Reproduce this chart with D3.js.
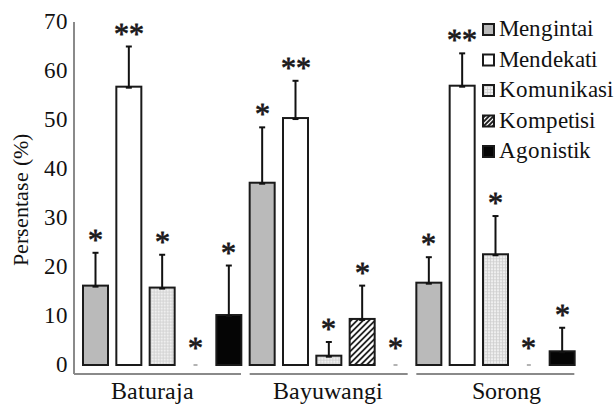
<!DOCTYPE html>
<html>
<head>
<meta charset="utf-8">
<script src="https://cdn.jsdelivr.net/npm/d3@7"></script>
<style>
  @font-face { font-family: "ChartSerif"; src: local("Liberation Serif"), local("LiberationSerif"), local("Tinos"); }
  body { margin: 0; background: #fff; }
</style>
</head>
<body>
<svg id="chart" width="614" height="406"></svg>
<script>
// data
var groups = ["Baturaja", "Bayuwangi", "Sorong"];
var series = ["Mengintai", "Mendekati", "Komunikasi", "Kompetisi", "Agonistik"];
var baturaja = [16.2, 56.8, 15.8, 0, 10.2];
var bayuwangi = [37.2, 50.4, 1.9, 9.4, 0];
var sorong = [16.8, 57.0, 22.6, 0, 2.8];
var errBaturaja = [6.7, 8.2, 6.7, 0, 10.1];
var errBayuwangi = [11.3, 7.6, 2.8, 6.8, 0];
var errSorong = [5.2, 6.6, 7.8, 0, 4.8];
var sigBaturaja = ["*", "**", "*", "*", "*"];
var sigBayuwangi = ["*", "**", "*", "*", "*"];
var sigSorong = ["*", "**", "*", "*", "*"];
var yTicks = [0, 10, 20, 30, 40, 50, 60, 70];

var values = [baturaja, bayuwangi, sorong];
var errors = [errBaturaja, errBayuwangi, errSorong];
var sigs = [sigBaturaja, sigBayuwangi, sigSorong];

var rows = [];
groups.forEach(function(g, gi) {
  series.forEach(function(s, si) {
    rows.push({ group: g, key: s, value: values[gi][si], err: errors[gi][si], sig: sigs[gi][si] });
  });
});

var fills = {
  Mengintai: "#bababa",
  Mendekati: "#ffffff",
  Komunikasi: "#efefef",
  Kompetisi: "#ffffff",
  Agonistik: "#050505"
};

var serif = "ChartSerif, 'Liberation Serif', Tinos, 'Times New Roman', serif";

var svg = d3.select("#chart");

var x0 = d3.scaleBand().domain(groups).range([83, 583]);
var x1 = d3.scaleBand().domain(series).range([0, x0.bandwidth()])
  .paddingInner(0.25).paddingOuter(0.125).align(0);
var y = d3.scaleLinear().domain([0, 70]).range([365, 22]);

// texture lines inside a box: grid or "/" hatch
function texture(g, key, bx, by, bw, bh) {
  if (key == "Komunikasi") {
    for (var gx = bx + 1.5; gx < bx + bw; gx += 3) {
      g.append("line").attr("x1", gx).attr("x2", gx).attr("y1", by).attr("y2", by + bh)
        .attr("stroke", "#cfcfcf").attr("stroke-width", 0.8);
    }
    for (var gy = by + 1.5; gy < by + bh; gy += 3) {
      g.append("line").attr("x1", bx).attr("x2", bx + bw).attr("y1", gy).attr("y2", gy)
        .attr("stroke", "#cfcfcf").attr("stroke-width", 0.8);
    }
  }
  if (key == "Kompetisi") {
    var top = by, bot = by + bh, step = bh < 20 ? 4.5 : 6;
    for (var c = bx + top + step / 2; c < bx + bw + bot; c += step) {
      var xa = Math.max(bx, c - bot), xb = Math.min(bx + bw, c - top);
      if (xb <= xa) continue;
      g.append("line").attr("x1", xa).attr("y1", c - xa).attr("x2", xb).attr("y2", c - xb)
        .attr("stroke", "#222").attr("stroke-width", 1.8);
    }
  }
}

// y axis
svg.append("line")
  .attr("x1", 74).attr("x2", 74).attr("y1", y(70)).attr("y2", 374)
  .attr("stroke", "#8a8a8a").attr("stroke-width", 2);

svg.append("g").selectAll("text")
  .data(yTicks)
  .enter()
  .append("text")
  .attr("x", 68)
  .attr("y", function(d) { return y(d) + 7; })
  .attr("text-anchor", "end")
  .attr("font-size", 23)
  .text(function(d) { return d; });

svg.append("text")
  .attr("transform", "translate(28,200) rotate(-90)")
  .attr("text-anchor", "middle")
  .attr("font-size", 22)
  .text("Persentase (%)");

// group baselines and labels
var labelDx = [-9, 0, 12];
svg.append("g").selectAll("line")
  .data(groups)
  .enter()
  .append("line")
  .attr("x1", function(d, i) { return i == 0 ? 74 : x0(d); })
  .attr("x2", function(d) { return x0(d) + 158; })
  .attr("y1", 374).attr("y2", 374)
  .attr("stroke", "#8a8a8a").attr("stroke-width", 2);

svg.append("g").selectAll("text")
  .data(groups)
  .enter()
  .append("text")
  .attr("x", function(d, i) { return x0(d) + 78 + labelDx[i]; })
  .attr("y", 399)
  .attr("text-anchor", "middle")
  .attr("font-size", 24)
  .text(function(d) { return d; });

// bars
var bx = function(d) { return x0(d.group) + x1(d.key); };
var bw = x1.bandwidth();
var barG = svg.append("g");

rows.filter(function(d) { return d.value > 0; }).forEach(function(d) {
  var top = y(d.value), h = y(0) - y(d.value);
  barG.append("rect")
    .attr("x", bx(d)).attr("y", top).attr("width", bw).attr("height", h)
    .attr("fill", fills[d.key]);
  texture(barG, d.key, bx(d), top, bw, h);
  barG.append("rect")
    .attr("x", bx(d)).attr("y", top).attr("width", bw).attr("height", h)
    .attr("fill", "none")
    .attr("stroke", "#1a1a1a")
    .attr("stroke-width", 2);
});

// zero values drawn as a tiny dash
svg.append("g").selectAll("line")
  .data(rows.filter(function(d) { return d.value == 0; }))
  .enter()
  .append("line")
  .attr("x1", function(d) { return bx(d) + bw / 2 - 2; })
  .attr("x2", function(d) { return bx(d) + bw / 2 + 2; })
  .attr("y1", y(0)).attr("y2", y(0))
  .attr("stroke", "#9a9a9a").attr("stroke-width", 1.5);

// error bars
var eb = svg.append("g").attr("stroke", "#111").attr("stroke-width", 2);
rows.filter(function(d) { return d.err > 0; }).forEach(function(d) {
  var cx = bx(d) + bw / 2;
  eb.append("line").attr("x1", cx).attr("x2", cx)
    .attr("y1", y(d.value)).attr("y2", y(d.value + d.err));
  eb.append("line").attr("x1", cx - 3).attr("x2", cx + 3)
    .attr("y1", y(d.value + d.err)).attr("y2", y(d.value + d.err));
  eb.append("line").attr("x1", cx - 3).attr("x2", cx + 3)
    .attr("y1", y(d.value) + 1).attr("y2", y(d.value) + 1);
});

// significance marks
svg.append("g").selectAll("text")
  .data(rows)
  .enter()
  .append("text")
  .attr("x", function(d) { return bx(d) + bw / 2; })
  .attr("y", function(d) { return d.value + d.err > 0 ? y(d.value + d.err) - 3 : y(0) - 7; })
  .attr("text-anchor", "middle")
  .attr("font-size", 30)
  .attr("stroke", "#222").attr("stroke-width", 0.8)
  .text(function(d) { return d.sig; });

// legend
var legend = svg.append("g").selectAll("g")
  .data(series)
  .enter()
  .append("g")
  .attr("transform", function(d, i) { return "translate(482," + (36 + i * 30.5) + ")"; });

legend.each(function(d) {
  var g = d3.select(this);
  g.append("rect").attr("x", 1).attr("y", -12).attr("width", 11).attr("height", 11)
    .attr("fill", fills[d]);
  texture(g, d, 1, -12, 11, 11);
  g.append("rect").attr("x", 1).attr("y", -12).attr("width", 11).attr("height", 11)
    .attr("fill", "none").attr("stroke", "#1a1a1a").attr("stroke-width", 2);
});

legend.append("text")
  .attr("x", 17)
  .attr("font-size", 23)
  .text(function(d) { return d; });

// serif face on every label
svg.selectAll("text")
  .attr("font-family", serif)
  .style("font-family", serif, "important")
  .style("fill", "#111");
</script>
</body>
</html>
